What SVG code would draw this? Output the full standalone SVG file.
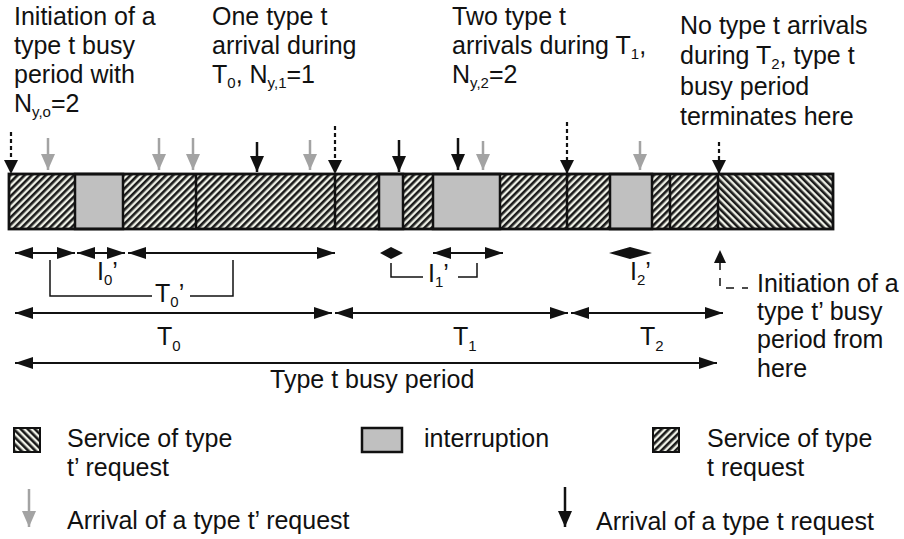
<svg xmlns="http://www.w3.org/2000/svg" width="904" height="539" viewBox="0 0 904 539">
  <style>
    text { font-family: "Liberation Sans", Arial, sans-serif; font-size: 25px; fill: #111; }
    .sub { font-size: 15px; }
    .seg { stroke: #111; stroke-width: 2.5; }
    .gray { fill: #c0c0c0; stroke: #111; stroke-width: 2.5; }
    .dim { stroke: #111; stroke-width: 2; fill: none; }
    .thin { stroke: #111; stroke-width: 1.5; fill: none; }
    .dash { stroke: #111; stroke-width: 2.2; stroke-dasharray: 4 3; fill: none; }
    .garr { stroke: #a3a3a3; stroke-width: 2.5; }
    .barr { stroke: #111; stroke-width: 2.5; }
  </style>
  <defs>
    <!-- service of a type t request: "/" hatching -->
    <pattern id="hatchT" patternUnits="userSpaceOnUse" width="5" height="5" patternTransform="rotate(45)">
      <rect width="5" height="5" fill="#eef0e6"/>
      <rect width="2.6" height="5" fill="#1a1a1a"/>
    </pattern>
    <!-- service of a type t' request: "\" hatching -->
    <pattern id="hatchTp" patternUnits="userSpaceOnUse" width="5" height="5" patternTransform="rotate(-45)">
      <rect width="5" height="5" fill="#eef0e6"/>
      <rect width="2.6" height="5" fill="#1a1a1a"/>
    </pattern>
    <marker id="ah" markerUnits="userSpaceOnUse" markerWidth="18" markerHeight="12" refX="18" refY="6" orient="auto-start-reverse">
      <path d="M0,0 L18,6 L0,12 z" fill="#111"/>
    </marker>
    <marker id="ahDown" markerUnits="userSpaceOnUse" markerWidth="14" markerHeight="14" refX="7" refY="14" orient="0">
      <path d="M0,0 L14,0 L7,14 z" fill="#111"/>
    </marker>
    <marker id="ahGray" markerUnits="userSpaceOnUse" markerWidth="14" markerHeight="16" refX="7" refY="16" orient="0">
      <path d="M0,0 L14,0 L7,16 z" fill="#a3a3a3"/>
    </marker>
    <marker id="ahBlack" markerUnits="userSpaceOnUse" markerWidth="14" markerHeight="16" refX="7" refY="16" orient="0">
      <path d="M0,0 L14,0 L7,16 z" fill="#111"/>
    </marker>
  </defs>

  <!-- annotation texts above the time line -->
  <g id="note-start">
    <text x="14" y="25">Initiation of a</text>
    <text x="14" y="54">type t busy</text>
    <text x="14" y="83">period with</text>
    <text x="14" y="112">N<tspan class="sub" dy="5">y,o</tspan><tspan dy="-5">=2</tspan></text>
  </g>
  <g id="note-t0">
    <text x="212" y="25">One type t</text>
    <text x="212" y="54">arrival during</text>
    <text x="212" y="83">T<tspan class="sub" dy="5">0</tspan><tspan dy="-5">, N</tspan><tspan class="sub" dy="5">y,1</tspan><tspan dy="-5">=1</tspan></text>
  </g>
  <g id="note-t1">
    <text x="452" y="25">Two type t</text>
    <text x="452" y="54">arrivals during T<tspan class="sub" dy="5">1</tspan><tspan dy="-5">,</tspan></text>
    <text x="452" y="83">N<tspan class="sub" dy="5">y,2</tspan><tspan dy="-5">=2</tspan></text>
  </g>
  <g id="note-end">
    <text x="680" y="34">No type t arrivals</text>
    <text x="680" y="64">during T<tspan class="sub" dy="5">2</tspan><tspan dy="-5">, type t</tspan></text>
    <text x="680" y="95">busy period</text>
    <text x="680" y="125">terminates here</text>
  </g>

  <!-- the time line -->
  <g id="timeline">
    <rect x="9" y="174" width="709" height="55" fill="url(#hatchT)"/>
    <rect x="718" y="174" width="115" height="55" fill="url(#hatchTp)"/>
    <rect class="gray" x="75" y="174" width="48" height="55"/>
    <rect class="gray" x="379" y="174" width="24" height="55"/>
    <rect class="gray" x="433" y="174" width="67" height="55"/>
    <rect class="gray" x="610" y="174" width="42" height="55"/>
    <path class="seg" d="M196,174 V229 M335,174 V229 M567,174 V229 M670,174 V229 M718,174 V229"/>
    <rect x="9" y="174" width="824" height="55" fill="none" stroke="#111" stroke-width="2.8"/>
  </g>

  <g id="connectors">
    <!-- busy period boundaries (dotted) -->
    <line class="dash" x1="11" y1="132" x2="11" y2="174" marker-end="url(#ahDown)"/>
    <line class="dash" x1="335" y1="126" x2="335" y2="174" marker-end="url(#ahDown)"/>
    <line class="dash" x1="567" y1="122" x2="567" y2="174" marker-end="url(#ahDown)"/>
    <line class="dash" x1="719" y1="142" x2="719" y2="174" marker-end="url(#ahDown)"/>

    <!-- type t' arrivals -->
    <line class="garr" x1="48" y1="138" x2="48" y2="170" marker-end="url(#ahGray)"/>
    <line class="garr" x1="159" y1="138" x2="159" y2="170" marker-end="url(#ahGray)"/>
    <line class="garr" x1="193" y1="138" x2="193" y2="170" marker-end="url(#ahGray)"/>
    <line class="garr" x1="310" y1="140" x2="310" y2="170" marker-end="url(#ahGray)"/>
    <line class="garr" x1="483" y1="141" x2="483" y2="170" marker-end="url(#ahGray)"/>
    <line class="garr" x1="640" y1="141" x2="640" y2="170" marker-end="url(#ahGray)"/>

    <!-- type t arrivals -->
    <line class="barr" x1="257" y1="142" x2="257" y2="172" marker-end="url(#ahBlack)"/>
    <line class="barr" x1="399" y1="140" x2="399" y2="172" marker-end="url(#ahBlack)"/>
    <line class="barr" x1="458" y1="138" x2="458" y2="170" marker-end="url(#ahBlack)"/>

    <!-- first row of spans -->
    <line class="dim" x1="15" y1="253" x2="75" y2="253" marker-start="url(#ah)" marker-end="url(#ah)"/>
    <line class="dim" x1="77" y1="253" x2="125" y2="253" marker-start="url(#ah)" marker-end="url(#ah)"/>
    <line class="dim" x1="128" y1="253" x2="335" y2="253" marker-start="url(#ah)" marker-end="url(#ah)"/>
    <path d="M380,253 L391,247 L391,259 z M403,253 L391,247 L391,259 z" fill="#111"/>
    <line class="dim" x1="433" y1="253" x2="503" y2="253" marker-start="url(#ah)" marker-end="url(#ah)"/>
    <path d="M609,253 L630,247 L630,259 z M652,253 L630,247 L630,259 z" fill="#111"/>

    <!-- brackets -->
    <path class="thin" d="M50,260 V296 H152 M190,296 H233 V260"/>
    <path class="thin" d="M391,263 V277 H423 M458,277 H477 V263"/>

    <!-- start of the type t' busy period -->
    <path d="M720,250 L714,263 L726,263 z" fill="#111"/>
    <path class="thin" d="M720,262 V288 H748" stroke-width="2" stroke-dasharray="8 8"/>

    <!-- second row of spans -->
    <line class="dim" x1="15" y1="313" x2="332" y2="313" marker-start="url(#ah)" marker-end="url(#ah)"/>
    <line class="dim" x1="335" y1="313" x2="568" y2="313" marker-start="url(#ah)" marker-end="url(#ah)"/>
    <line class="dim" x1="571" y1="313" x2="723" y2="313" marker-start="url(#ah)" marker-end="url(#ah)"/>

    <!-- whole busy period -->
    <line class="dim" x1="15" y1="363" x2="717" y2="363" marker-start="url(#ah)" marker-end="url(#ah)"/>
  </g>

  <!-- span labels -->
  <g id="labels">
    <text x="97" y="280">I<tspan class="sub" dy="5">0</tspan><tspan dy="-5">’</tspan></text>
    <text x="155" y="302">T<tspan class="sub" dy="5">0</tspan><tspan dy="-5">’</tspan></text>
    <text x="428" y="282">I<tspan class="sub" dy="5">1</tspan><tspan dy="-5">’</tspan></text>
    <text x="630" y="280">I<tspan class="sub" dy="5">2</tspan><tspan dy="-5">’</tspan></text>
    <text x="157" y="345">T<tspan class="sub" dy="6">0</tspan></text>
    <text x="453" y="345">T<tspan class="sub" dy="6">1</tspan></text>
    <text x="640" y="345">T<tspan class="sub" dy="6">2</tspan></text>
    <text x="270" y="388">Type t busy period</text>
  </g>

  <g id="note-tprime">
    <text x="757" y="292">Initiation of a</text>
    <text x="757" y="320">type t’ busy</text>
    <text x="757" y="348">period from</text>
    <text x="757" y="377">here</text>
  </g>

  <!-- key -->
  <g id="legend-tprime">
    <rect x="14" y="428" width="26" height="24" fill="url(#hatchTp)" stroke="#111" stroke-width="2"/>
    <text x="67" y="447">Service of type</text>
    <text x="67" y="476">t’ request</text>
  </g>
  <g id="legend-interruption">
    <rect class="gray" x="362" y="428" width="40" height="24" stroke-width="2"/>
    <text x="424" y="447">interruption</text>
  </g>
  <g id="legend-t">
    <rect x="653" y="428" width="26" height="24" fill="url(#hatchT)" stroke="#111" stroke-width="2"/>
    <text x="707" y="447">Service of type</text>
    <text x="707" y="476">t request</text>
  </g>
  <g id="legend-tprime-arrival">
    <line class="garr" x1="29" y1="489" x2="29" y2="527" marker-end="url(#ahGray)"/>
    <text x="67" y="529">Arrival of a type t’ request</text>
  </g>
  <g id="legend-t-arrival">
    <line class="barr" x1="565" y1="487" x2="565" y2="527" marker-end="url(#ahBlack)"/>
    <text x="596" y="530">Arrival of a type t request</text>
  </g>
</svg>
